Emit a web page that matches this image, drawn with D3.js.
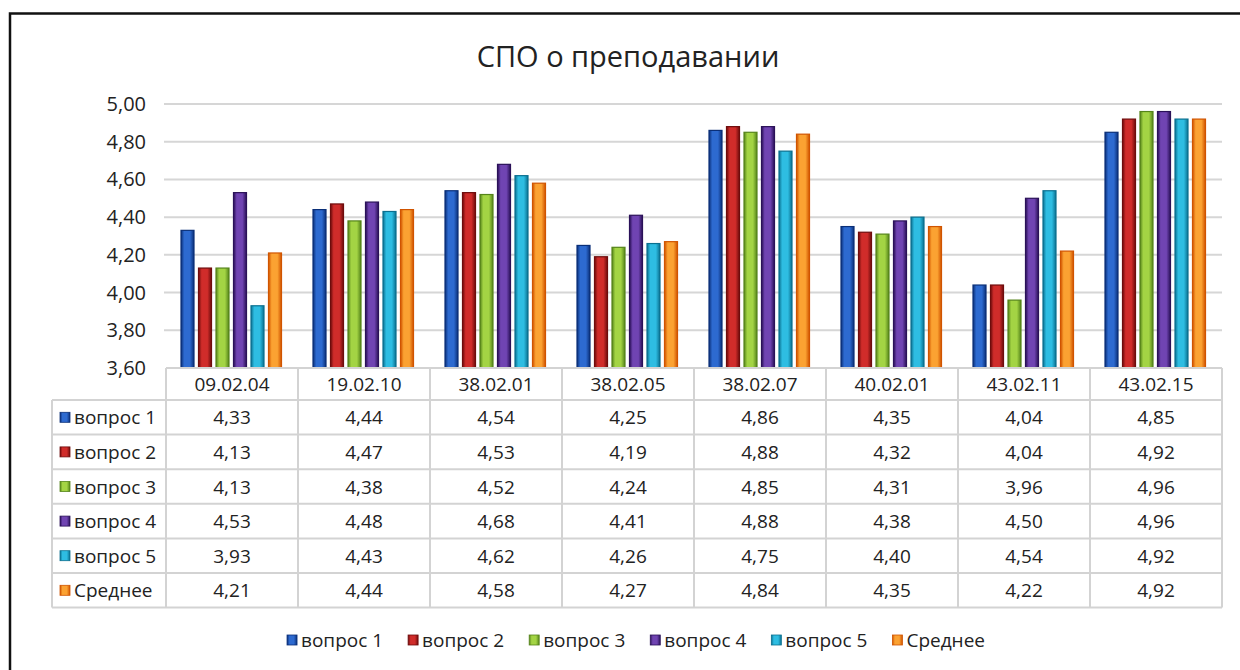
<html>
<head>
    <meta charset="utf-8">
    <script src="https://d3js.org/d3.v7.min.js" charset="utf-8"></script>
    <style>
        body { margin: 0; background: #fff; }
        text { font-family: "Open Sans", "Noto Sans", sans-serif; fill: #222; }
    </style>
</head>
<body>
    <script>
        var categories = ["09.02.04", "19.02.10", "38.02.01", "38.02.05", "38.02.07", "40.02.01", "43.02.11", "43.02.15"];
        var series = ["вопрос 1", "вопрос 2", "вопрос 3", "вопрос 4", "вопрос 5", "Среднее"];
        var q1 = [4.33, 4.44, 4.54, 4.25, 4.86, 4.35, 4.04, 4.85];
        var q2 = [4.13, 4.47, 4.53, 4.19, 4.88, 4.32, 4.04, 4.92];
        var q3 = [4.13, 4.38, 4.52, 4.24, 4.85, 4.31, 3.96, 4.96];
        var q4 = [4.53, 4.48, 4.68, 4.41, 4.88, 4.38, 4.50, 4.96];
        var q5 = [3.93, 4.43, 4.62, 4.26, 4.75, 4.40, 4.54, 4.92];
        var avg = [4.21, 4.44, 4.58, 4.27, 4.84, 4.35, 4.22, 4.92];
        var yTicks = [3.6, 3.8, 4.0, 4.2, 4.4, 4.6, 4.8, 5.0];

        var values = [q1, q2, q3, q4, q5, avg];
        // edge / middle colours for the excel-like gradient
        var colors = [
            ["#0a2f78", "#2d6ad0"],
            ["#6e0c0c", "#d02c2a"],
            ["#55841a", "#a3d444"],
            ["#2a1158", "#7044b2"],
            ["#0a7090", "#2ebde2"],
            ["#d05400", "#fba232"]
        ];

        var width = 1240, height = 670;
        var fs = "19px";
        var fmt = function(v) { return d3.format(".2f")(v).replace(".", ","); };

        var svg = d3.select("body").append("svg").attr("width", width).attr("height", height);

        var defs = svg.append("defs");
        colors.forEach(function(c, i) {
            var g = defs.append("linearGradient").attr("id", "g" + i)
                .attr("x1", "0%").attr("x2", "100%").attr("y1", "0%").attr("y2", "0%");
            g.append("stop").attr("offset", "0%").attr("stop-color", c[0]);
            g.append("stop").attr("offset", "25%").attr("stop-color", c[1]);
            g.append("stop").attr("offset", "68%").attr("stop-color", c[1]);
            g.append("stop").attr("offset", "100%").attr("stop-color", c[0]);
        });

        // outer frame (runs off the right and bottom edge)
        svg.append("rect").attr("x", 10).attr("y", 13.5).attr("width", 1300).attr("height", 700)
            .attr("fill", "none").attr("stroke", "#111").attr("stroke-width", 2.5);

        svg.append("text").attr("x", 628).attr("y", 67).attr("text-anchor", "middle")
            .attr("font-size", "29px").text("СПО о преподавании");

        var x0 = d3.scaleBand().domain(categories).range([166, 1222]);
        var x1 = d3.scaleBand().domain(series).range([15, 115.5]).paddingInner(0.257);
        var y = d3.scaleLinear().domain([3.6, 5.0]).range([368, 104]);

        // gridlines
        svg.append("g").selectAll("line").data(yTicks.slice(1)).enter().append("line")
            .attr("x1", 164).attr("x2", 1222)
            .attr("y1", function(d) { return y(d); }).attr("y2", function(d) { return y(d); })
            .attr("stroke", "#d6d6d6").attr("stroke-width", 2);

        // y labels
        svg.append("g").selectAll("text").data(yTicks).enter().append("text")
            .attr("x", 146).attr("y", function(d) { return y(d) + 7; })
            .attr("text-anchor", "end").attr("font-size", "20px")
            .text(fmt);

        // bars
        var groups = svg.append("g").selectAll("g").data(categories).enter().append("g")
            .attr("transform", function(d) { return "translate(" + x0(d) + ",0)"; });
        groups.selectAll("rect").data(function(d, ci) {
            return series.map(function(s, si) { return { s: s, si: si, v: values[si][ci] }; });
        }).enter().append("rect")
            .attr("x", function(d) { return x1(d.s); })
            .attr("width", x1.bandwidth())
            .attr("y", function(d) { return y(d.v); })
            .attr("height", function(d) { return y(3.6) - y(d.v); })
            .attr("fill", function(d) { return "url(#g" + d.si + ")"; })
            .attr("stroke", function(d) { return colors[d.si][0]; })
            .attr("stroke-width", 1.2);

        // data table
        var tTop = 368, headH = 32, rowH = 34.6, labelX = 52;
        var table = svg.append("g");
        var grid = "#d3d3d3";
        var tBottom = tTop + headH + rowH * series.length;
        // horizontal lines
        table.append("line").attr("x1", 166).attr("x2", 1222).attr("y1", tTop).attr("y2", tTop)
            .attr("stroke", grid).attr("stroke-width", 2);
        d3.range(series.length + 1).forEach(function(i) {
            var yy = tTop + headH + i * rowH;
            table.append("line").attr("x1", labelX).attr("x2", 1222).attr("y1", yy).attr("y2", yy)
                .attr("stroke", grid).attr("stroke-width", 2);
        });
        // vertical lines
        table.append("line").attr("x1", labelX).attr("x2", labelX).attr("y1", tTop + headH).attr("y2", tBottom)
            .attr("stroke", grid).attr("stroke-width", 2);
        categories.forEach(function(c) {
            table.append("line").attr("x1", x0(c)).attr("x2", x0(c)).attr("y1", tTop).attr("y2", tBottom)
                .attr("stroke", grid).attr("stroke-width", 2);
        });
        table.append("line").attr("x1", 1222).attr("x2", 1222).attr("y1", tTop).attr("y2", tBottom)
            .attr("stroke", grid).attr("stroke-width", 2);

        // header
        table.selectAll("text.head").data(categories).enter().append("text").attr("class", "head")
            .attr("x", function(d) { return x0(d) + x0.bandwidth() / 2; })
            .attr("y", tTop + headH / 2 + 7).attr("text-anchor", "middle").attr("font-size", fs)
            .text(function(d) { return d; });

        // rows
        series.forEach(function(s, si) {
            var cy = tTop + headH + si * rowH + rowH / 2;
            table.append("rect").attr("x", 60).attr("y", cy - 5).attr("width", 10).attr("height", 10)
                .attr("fill", "url(#g" + si + ")").attr("stroke", colors[si][0]).attr("stroke-width", 0.8);
            table.append("text").attr("x", 74).attr("y", cy + 7).attr("font-size", fs).text(s);
            table.selectAll("text.v" + si).data(values[si]).enter().append("text").attr("class", "v" + si)
                .attr("x", function(d, i) { return x0(categories[i]) + x0.bandwidth() / 2; })
                .attr("y", cy + 7).attr("text-anchor", "middle").attr("font-size", fs)
                .text(fmt);
        });

        // legend
        var legend = svg.append("g");
        var lx = 0, gap = 25;
        series.forEach(function(s, si) {
            var it = legend.append("g").attr("transform", "translate(" + lx + ",0)");
            it.append("rect").attr("x", 0).attr("y", -5).attr("width", 10).attr("height", 10)
                .attr("fill", "url(#g" + si + ")").attr("stroke", colors[si][0]).attr("stroke-width", 0.8);
            var t = it.append("text").attr("x", 14).attr("y", 7).attr("font-size", fs).text(s);
            lx += 14 + t.node().getComputedTextLength() + gap;
        });
        var lw = lx - gap;
        legend.attr("transform", "translate(" + (636 - lw / 2) + ",640)");
    </script>
</body>
</html>
